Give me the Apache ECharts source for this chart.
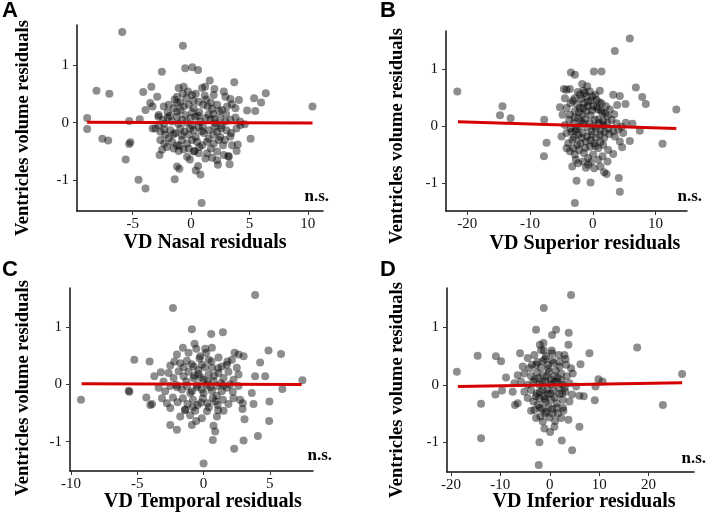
<!DOCTYPE html>
<html>
<head>
<meta charset="UTF-8">
<title>VD residuals</title>
<script src="https://cdn.jsdelivr.net/npm/echarts@6/dist/echarts.min.js"></script>
<style>
  html, body { margin: 0; padding: 0; background: #fff; }
  #container { width: 708px; height: 518px; }
</style>
</head>
<body>
<div id="container"></div>
<script>
// panel titles / axis names
var panelLetters = ['A', 'B', 'C', 'D'];
var xNames = ['VD Nasal residuals', 'VD Superior residuals', 'VD Temporal residuals', 'VD Inferior residuals'];
var yName = 'Ventricles volume residuals';

// tick labels
var yTicks = [-1, 0, 1];
var nasalTicks = [-5, 0, 5, 10];
var superiorTicks = [-20, -10, 0, 10];
var temporalTicks = [-10, -5, 0, 5];
var inferiorTicks = [-20, -10, 0, 10, 20];

// points (x = VD residual, y = ventricles volume residual)
var nasalPts = [
  [-5.9,1.57],[-0.7,1.33],[-2.5,0.88],[-0.5,0.94],[0.1,0.96],[0.6,0.91],[-8.1,0.55],[-7.0,0.50],
  [-8.9,0.08],[-8.9,-0.11],[-7.6,-0.28],[-7.1,-0.31],[-5.3,0.03],[-5.2,-0.34],[-5.3,-0.37],[-4.4,0.06],
  [-5.6,-0.64],[-4.5,-0.99],[-3.9,-1.14],[0.9,-1.39],[-1.4,-0.98],[-1.0,-0.80],[0.8,-0.90],[0.4,-0.83],
  [0.6,-0.75],[-0.1,-0.64],[0.3,-0.49],[-2.7,-0.56],[1.8,-0.61],[2.3,-0.73],[3.3,-0.72],[3.2,-0.58],
  [3.9,-0.49],[4.0,-0.38],[5.1,-0.28],[10.4,0.28],[6.4,0.51],[6.0,0.35],[5.4,0.42],[5.5,0.20],
  [4.8,0.21],[4.6,-0.03],[4.2,0.02],[4.1,0.39],[3.7,0.70],[3.5,0.32],[2.8,0.54],[2.0,0.58],
  [1.6,0.73],[1.2,0.62],[-3.4,0.62],[-4.1,0.53],[-2.9,0.45],[-3.5,0.34],[-3.9,0.22],[-3.3,0.28],
  [-2.8,0.10],[-3.3,-0.10],[-1.2,-0.76],
  [-1.06,0.60],[-0.63,0.62],[-0.26,0.54],[0.09,0.48],[0.94,0.60],[1.17,0.47],[1.94,0.48],[2.94,0.45],
  [3.37,0.41],[-1.2,0.45],[-0.91,0.35],[-2.34,0.28],[-1.91,0.31],[-1.49,0.25],[-1.2,0.34],[-0.63,0.28],
  [-0.2,0.31],[0.23,0.25],[0.66,0.36],[1.03,0.31],[1.43,0.28],[1.8,0.24],[2.23,0.31],[2.66,0.22],
  [3.09,0.28],[3.8,0.25],[-1.2,0.19],[0.09,0.18],[-2.77,0.13],[-2.4,0.05],[-2.0,0.09],[-1.63,0.02],
  [-1.2,0.10],[-0.77,0.05],[-0.49,0.13],[-0.06,0.08],[0.37,0.10],[0.8,0.02],[1.23,0.08],[1.66,0.05],
  [2.09,-0.01],[2.51,0.08],[2.94,0.02],[3.37,0.05],[3.8,0.09],[-2.77,-0.04],[-2.29,-0.02],[-3.06,-0.10],
  [-2.63,-0.16],[-2.2,-0.21],[-1.77,-0.13],[-1.34,-0.18],[-0.91,-0.10],[-0.57,-0.16],[-0.2,-0.21],[0.23,-0.13],
  [0.66,-0.07],[1.09,-0.18],[1.51,-0.13],[1.89,-0.21],[2.23,-0.16],[2.57,-0.10],[3.03,-0.13],[3.43,-0.18],
  [3.89,-0.10],[4.23,-0.04],[-1.91,-0.27],[-2.63,-0.30],[-2.29,-0.36],[-1.63,-0.33],[-1.2,-0.39],[-0.77,-0.30],
  [-0.34,-0.36],[0.09,-0.30],[0.51,-0.33],[0.94,-0.39],[1.37,-0.33],[1.94,-0.36],[2.37,-0.30],[2.74,-0.39],
  [3.37,-0.24],[3.51,-0.39],[-1.49,-0.45],[-0.63,-0.46],[-2.49,-0.47],[-2.06,-0.42],[-1.06,-0.49],[0.23,-0.50],
  [0.66,-0.53],[1.37,-0.53],[2.23,-0.50],[2.8,-0.56],[-0.34,-0.59],[1.23,-0.62],[2.23,-0.65],[3.23,-0.59],
  [-1.4,0.4],[-0.9,0.22],[-0.4,0.42],[0.2,0.38],[0.7,0.18],[1.3,0.4],[1.9,0.15],[2.4,0.2],
  [-1.8,0.12],[-1.1,-0.02],[-0.4,0.0],[0.1,-0.05],[0.6,0.12],[1.0,-0.06],[1.5,0.14],[2.0,0.06],
  [2.6,-0.05],[-1.5,-0.2],[-0.8,-0.22],[-0.1,-0.1],[0.4,-0.25],[0.9,-0.15],[1.5,-0.28],[2.0,-0.08],
  [2.5,-0.25],[-1.0,-0.4],[-0.2,-0.45],[0.7,-0.42],[1.7,-0.45],[-2.3,-0.12],[-2.0,0.18],[0.4,0.5],
  [-0.7,0.5],[1.7,0.35],[2.9,-0.3],[3.0,0.15]
];
var superiorPts = [
  [-21.6,0.61],[-14.4,0.35],[-14.8,0.19],[-13.1,0.14],[-7.75,0.11],[-7.38,-0.29],[-7.8,-0.53],[5.89,1.54],
  [3.5,1.32],[-3.5,0.94],[-2.87,0.90],[0.16,0.96],[1.38,0.96],[-1.7,0.74],[-4.62,0.65],[-3.66,0.65],
  [1.11,0.62],[6.85,0.68],[7.86,0.51],[8.44,0.39],[13.3,0.29],[11.1,-0.31],[7.48,-0.08],[5.89,-0.26],
  [4.67,-0.37],[4.14,-0.91],[4.3,-1.15],[-2.87,-1.35],[-2.6,-0.96],[-0.37,-0.99],[1.8,-0.81],[2.18,-0.84],
  [1.22,-0.71],[-1.11,-0.73],[-0.32,-0.63],[-3.29,-0.71],[-2.71,-0.59],[-5.25,0.33],[-4.83,0.20],[3.24,0.55],
  [4.3,0.53],[5.2,0.39],[3.87,0.37],[5.25,0.06],[6.32,0.04],[-4.19,0.64],[-4.46,0.49],
  [-4.19,0.32],[-3.56,0.40],[-2.87,0.49],[-2.07,0.55],[-1.27,0.58],[-0.48,0.61],[-0.05,0.52],[0.58,0.46],
  [1.38,0.40],[2.07,0.35],[2.71,0.29],[3.4,0.21],[-3.66,0.20],[-2.87,0.26],[-2.07,0.32],[-1.43,0.40],
  [-0.74,0.43],[0.05,0.35],[0.85,0.29],[1.54,0.23],[2.28,0.17],[2.97,0.11],[3.77,0.05],[4.56,-0.01],
  [-4.46,0.02],[-3.77,0.11],[-3.03,0.05],[-2.34,0.14],[-1.65,0.20],[-1.01,0.26],[-0.37,0.19],[0.32,0.11],
  [1.01,0.05],[1.65,0.02],[2.44,-0.04],[3.24,-0.09],[4.03,-0.06],[4.83,-0.12],[-4.99,-0.18],[-4.19,-0.12],
  [-3.56,-0.04],[-2.81,-0.09],[-2.18,-0.01],[-1.54,0.05],[-0.9,-0.02],[-0.21,-0.09],[0.48,-0.04],[1.11,-0.15],
  [1.8,-0.21],[2.6,-0.14],[3.5,-0.18],[4.3,-0.27],[-3.93,-0.30],[-3.24,-0.24],[-2.49,-0.33],[-1.8,-0.21],
  [-1.11,-0.27],[-0.48,-0.36],[0.16,-0.30],[0.85,-0.39],[1.65,-0.33],[2.44,-0.42],[3.24,-0.49],[-3.66,-0.44],
  [-2.87,-0.50],[-2.18,-0.42],[-1.43,-0.47],[-0.74,-0.56],[0.05,-0.50],[0.85,-0.59],[1.54,-0.53],[2.34,-0.62],
  [-2.34,-0.65],[-1.54,-0.62],[-0.74,-0.68],[0.21,-0.74],[-4.19,-0.39],[-3.13,-0.39],
  [-3.2,0.45],[-2.5,0.38],[-1.8,0.48],[-1.0,0.52],[-0.3,0.45],[0.4,0.55],[1.0,0.42],[-2.9,0.15],
  [-2.2,0.25],[-1.5,0.32],[-0.8,0.35],[-0.1,0.28],[0.6,0.33],[1.3,0.27],[2.0,0.22],[-3.4,-0.1],
  [-2.6,-0.05],[-1.9,0.08],[-1.2,0.12],[-0.5,0.05],[0.2,0.0],[0.9,0.12],[1.6,0.09],[2.3,0.05],
  [-3.0,-0.2],[-2.3,-0.15],[-1.6,-0.12],[-0.9,-0.18],[-0.2,-0.15],[0.5,-0.2],[1.2,-0.08],[1.9,-0.1],
  [-2.0,-0.3],[-1.2,-0.38],[-0.4,-0.25],[0.4,-0.35],[1.2,-0.28],[-1.5,0.62],[-0.9,0.7],[-2.4,0.6]
];
var temporalPts = [
  [-9.25,-0.27],[3.89,1.56],[-2.31,1.33],[-0.88,0.96],[0.58,0.88],[1.46,0.91],[-5.23,0.43],[-4.07,0.40],
  [-5.65,-0.11],[-5.6,-0.13],[-4.32,-0.23],[-4.02,-0.36],[-3.89,-0.34],[4.9,0.59],[5.85,0.53],[4.27,0.38],
  [7.46,0.07],[5.95,-0.08],[3.89,0.14],[4.65,0.14],[3.64,-0.15],[3.77,-0.34],[4.97,-0.30],[4.95,-0.64],
  [4.1,-0.90],[3.02,-0.98],[2.31,-1.12],[0.0,-1.38],[0.7,-0.97],[0.88,-0.82],[0.75,-0.72],[-2.51,-0.71],
  [-2.01,-0.79],[2.96,-0.33],[2.94,-0.43],[3.09,-0.61],[2.34,0.55],[2.64,0.52],[3.02,0.49],[-0.68,0.71],
  [-0.55,0.62],[0.13,0.62],[0.63,0.64],
  [-1.56,0.64],[-2.01,0.52],[-2.51,0.33],[-3.22,0.21],[-3.72,0.14],[-1.13,0.55],[-0.25,0.49],[0.38,0.43],
  [1.13,0.47],[1.76,0.34],[2.14,0.43],[-1.76,0.37],[-1.26,0.41],[-0.75,0.31],[-0.13,0.34],[0.63,0.29],
  [1.38,0.31],[2.51,0.29],[-3.02,0.05],[-2.64,0.20],[-2.26,0.11],[-1.88,0.23],[-1.51,0.14],[-1.13,0.22],
  [-0.75,0.11],[-0.38,0.18],[0.0,0.08],[0.38,0.17],[0.75,0.06],[1.13,0.20],[1.51,0.11],[1.88,0.22],
  [2.26,0.08],[2.64,0.17],[-3.39,-0.06],[-2.89,-0.12],[-2.51,-0.03],[-2.06,-0.01],[-1.63,-0.09],[-1.26,-0.03],
  [-0.88,-0.12],[-0.5,-0.01],[-0.13,-0.09],[0.25,-0.01],[0.63,-0.11],[1.01,-0.03],[1.38,-0.12],[1.76,-0.06],
  [2.21,-0.13],[2.64,-0.03],[-3.14,-0.24],[-2.76,-0.33],[-2.31,-0.23],[-1.96,-0.31],[-1.56,-0.24],[-1.21,-0.34],
  [-0.8,-0.27],[-0.45,-0.36],[-0.05,-0.24],[0.3,-0.33],[0.7,-0.24],[1.06,-0.36],[1.46,-0.27],[1.88,-0.34],
  [2.26,-0.24],[2.76,-0.27],[-2.51,-0.41],[-1.76,-0.56],[-1.38,-0.44],[-1.01,-0.54],[-0.63,-0.46],[-0.13,-0.59],
  [0.25,-0.47],[1.01,-0.56],[1.51,-0.46],[-0.88,-0.71],[-0.55,-0.64],
  [-0.9,0.35],[-0.4,0.25],[0.1,0.3],[0.6,0.4],[1.1,0.28],[-1.3,0.05],[-0.7,0.15],[-0.2,0.12],
  [0.3,0.05],[0.8,0.15],[1.3,0.02],[-1.0,-0.15],[-0.5,-0.05],[0.0,-0.15],[0.5,-0.05],[1.0,-0.2],
  [1.5,-0.02],[-0.8,-0.4],[-0.2,-0.32],[0.4,-0.4],[0.9,-0.3],[-1.5,0.3],[-2.0,-0.05],[2.0,0.0],
  [1.8,0.4],[-1.4,-0.45],[0.2,0.55],[-0.3,0.45],[1.1,-0.45],[-2.2,0.4]
];
var inferiorPts = [
  [4.32,1.57],[-1.22,1.34],[-2.77,0.96],[0.47,0.87],[1.28,0.96],[3.85,0.91],[-1.28,0.73],[3.78,0.70],
  [-14.6,0.51],[-10.9,0.50],[-9.86,0.41],[-6.01,0.55],[-18.8,0.23],[-8.85,0.13],[-13.9,-0.33],[-13.9,-0.93],
  [-11.0,-0.17],[-9.66,-0.10],[-7.5,-0.12],[-7.03,-0.35],[-6.49,-0.32],[17.7,0.65],[26.8,0.19],[22.9,-0.35],
  [9.86,0.10],[10.7,0.06],[9.26,-0.03],[9.12,-0.27],[6.01,-0.19],[6.89,-0.20],[6.22,0.36],[8.04,0.55],
  [6.01,-0.73],[4.53,-1.14],[2.43,-0.97],[-2.23,-1.40],[-2.09,-1.00],[0.07,-0.82],[-3.78,-0.45],[3.78,-0.61],
  [-4.46,0.47],[-3.11,0.52],[-1.76,0.61],[-0.74,0.50],[0.47,0.55],[1.82,0.52],[2.97,0.52],[4.32,0.29],
  [-5.47,0.32],[-4.12,0.29],[-2.77,0.35],[-1.42,0.41],[-0.41,0.35],[0.74,0.38],[1.96,0.32],[3.31,0.35],
  [4.66,0.20],[-6.49,0.17],[-5.14,0.20],[-3.78,0.15],[-2.64,0.22],[-1.42,0.17],[-0.2,0.23],[0.95,0.15],
  [2.3,0.20],[3.45,0.15],[-7.16,0.03],[-5.81,0.06],[-4.46,0.0],[-3.31,0.06],[-2.09,0.0],[-0.88,0.06],
  [0.27,0.01],[1.42,0.06],[2.64,0.0],[3.99,0.03],[5.34,-0.03],[-5.14,-0.12],[-3.78,-0.09],[-2.64,-0.15],
  [-1.42,-0.09],[-0.41,-0.16],[0.74,-0.10],[1.96,-0.16],[3.18,-0.12],[4.53,-0.17],[-4.46,-0.23],[-3.31,-0.29],
  [-2.09,-0.23],[-0.88,-0.30],[0.27,-0.26],[1.42,-0.32],[2.64,-0.26],[3.99,-0.29],[-3.11,-0.44],[-2.03,-0.40],
  [-0.74,-0.47],[0.47,-0.42],[1.62,-0.50],[2.77,-0.45],[-2.77,-0.58],[-1.42,-0.64],[-0.07,-0.57],[1.08,-0.63],
  [2.3,-0.58],[-1.08,-0.76],[0.95,-0.73],
  [-2.5,0.4],[-1.8,0.3],[-1.0,0.45],[-0.3,0.28],[0.5,0.42],[1.2,0.25],[2.0,0.4],[-3.0,0.1],
  [-2.2,0.12],[-1.5,0.05],[-0.6,0.15],[0.1,0.1],[0.9,0.05],[1.6,0.12],[2.4,0.08],[3.0,-0.05],
  [-2.8,-0.2],[-2.0,-0.12],[-1.2,-0.2],[-0.5,-0.08],[0.2,-0.15],[1.0,-0.22],[1.8,-0.05],[2.5,-0.15],
  [-2.4,-0.35],[-1.6,-0.42],[-0.9,-0.5],[-0.2,-0.38],[0.6,-0.5],[1.4,-0.4],[-1.9,-0.55],[-1.0,-0.25],
  [0.4,0.6],[-1.2,0.6],[3.2,0.45],[-3.6,0.35],[-2.0,0.7],[2.7,-0.4]
];

// fitted lines (end points)
var nasalFit = [[-8.9, 0.005], [10.4, -0.005]];
var superiorFit = [[-21.5, 0.075], [13.3, -0.04]];
var temporalFit = [[-9.2, 0.01], [7.4, 0.0]];
var inferiorFit = [[-18.6, -0.03], [26.8, 0.035]];

var pts = [nasalPts, superiorPts, temporalPts, inferiorPts];
var fits = [nasalFit, superiorFit, temporalFit, inferiorFit];
var xTicks = [nasalTicks, superiorTicks, temporalTicks, inferiorTicks];

// layout
var grids = [
  { left: 77, top: 25, width: 246, height: 186 },
  { left: 446, top: 31, width: 241, height: 180 },
  { left: 70, top: 288, width: 243, height: 183 },
  { left: 447, top: 288, width: 247, height: 184 }
];
var xRanges = [[-9.77, 11.3], [-23.4, 15.0], [-10.08, 8.26], [-20.8, 29.2]];
var yRanges = [[-1.53, 1.69], [-1.49, 1.67], [-1.51, 1.68], [-1.52, 1.69]];
var letterPos = [[2, 11], [380, 11], [2, 270], [380, 270]];
var yNamePos = [[23, 128], [397, 136], [23, 388], [397, 390]];
var xNamePos = [[205, 243], [585, 244], [203, 502], [584, 502]];
var nsPos = [[329, 197], [702, 197], [332, 456], [706, 459]];

var serif = '"Liberation Serif", "Times New Roman", serif';
var sans = '"Liberation Sans", Arial, sans-serif';

var option = {
  backgroundColor: '#fff',
  animation: false,
  grid: [], xAxis: [], yAxis: [], series: [], graphic: []
};

for (var i = 0; i < 4; i++) {
  option.grid.push(grids[i]);
  option.xAxis.push({
    type: 'value', gridIndex: i, min: xRanges[i][0], max: xRanges[i][1],
    splitLine: { show: false },
    axisLine: { onZero: false, lineStyle: { color: '#111', width: 1.5 } },
    axisTick: { show: true, length: 4, customValues: xTicks[i], lineStyle: { color: '#333' } },
    axisLabel: { customValues: xTicks[i], margin: 6, fontFamily: serif, fontSize: 15, color: '#111' }
  });
  option.yAxis.push({
    type: 'value', gridIndex: i, min: yRanges[i][0], max: yRanges[i][1],
    splitLine: { show: false },
    axisLine: { onZero: false, lineStyle: { color: '#111', width: 1.5 } },
    axisTick: { show: true, length: 4, customValues: yTicks, lineStyle: { color: '#333' } },
    axisLabel: { customValues: yTicks, margin: 8, fontFamily: serif, fontSize: 15, color: '#111' }
  });
  option.series.push({
    type: 'scatter', xAxisIndex: i, yAxisIndex: i, data: pts[i],
    symbolSize: 8,
    itemStyle: { color: 'rgba(0,0,0,0.56)', borderWidth: 0 },
    z: 2
  });
  option.series.push({
    type: 'line', xAxisIndex: i, yAxisIndex: i, data: fits[i],
    symbol: 'none',
    lineStyle: { color: '#d50000', width: 3 },
    z: 3
  });
  option.graphic.push({
    type: 'text', x: letterPos[i][0], y: letterPos[i][1],
    style: { text: panelLetters[i], font: 'bold 22px ' + sans, fill: '#000', verticalAlign: 'middle' }
  });
  option.graphic.push({
    type: 'text', x: yNamePos[i][0], y: yNamePos[i][1], rotation: Math.PI / 2,
    style: { text: yName, font: 'bold 18.5px ' + serif, fill: '#000', align: 'center', verticalAlign: 'middle' }
  });
  option.graphic.push({
    type: 'text', x: xNamePos[i][0], y: xNamePos[i][1],
    style: { text: xNames[i], font: 'bold 20px ' + serif, fill: '#000', align: 'center', verticalAlign: 'middle' }
  });
  option.graphic.push({
    type: 'text', x: nsPos[i][0], y: nsPos[i][1],
    style: { text: 'n.s.', font: 'bold 17px ' + serif, fill: '#000', align: 'right', verticalAlign: 'middle' }
  });
}

var myChart = echarts.init(document.getElementById('container'));
myChart.setOption(option);
</script>
</body>
</html>
